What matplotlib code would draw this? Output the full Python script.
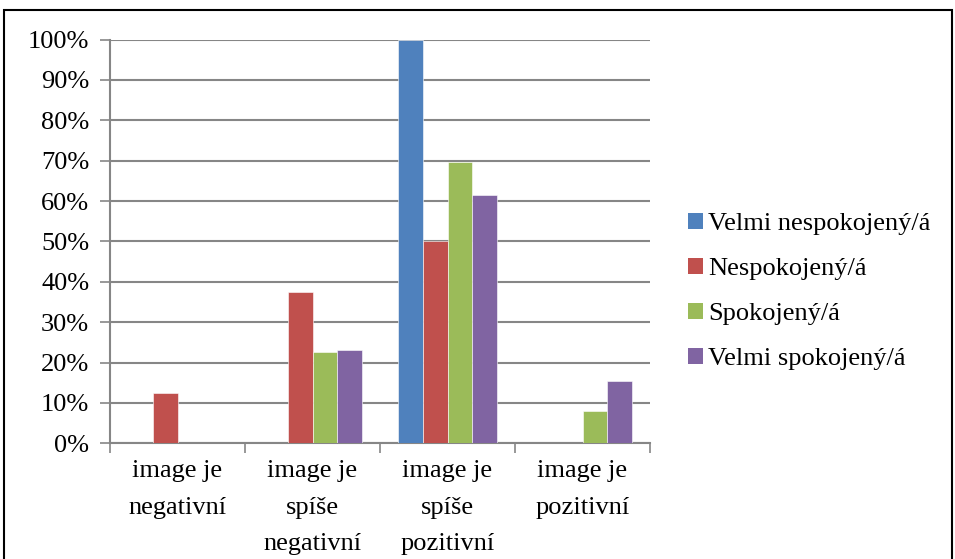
import matplotlib
matplotlib.use("Agg")
import matplotlib.pyplot as plt
import numpy as np
from matplotlib.patches import Rectangle, Patch

categories = ["image je\nnegativní", "image je\nspíše\nnegativní", "image je\nspíše\npozitivní", "image je\npozitivní"]
series_names = ["Velmi nespokojený/á", "Nespokojený/á", "Spokojený/á", "Velmi spokojený/á"]
velmi_nespokojeny = [0, 0, 100, 0]
nespokojeny = [12.5, 37.5, 50, 0]
spokojeny = [0, 22.5, 69.6, 7.9]
velmi_spokojeny = [0, 23.1, 61.5, 15.4]
yticks = [0, 10, 20, 30, 40, 50, 60, 70, 80, 90, 100]
colors = ["#4F81BD", "#C0504D", "#9BBB59", "#8064A2"]

plt.rcParams['font.family'] = ['Liberation Serif', 'DejaVu Serif']
FS = 19
fig = plt.figure(figsize=(9.55, 5.59), dpi=100)
W, H = 955, 559
ax = fig.add_axes([110 / W, 1 - 443.3 / H, 540 / W, 403.8 / H])

series = [velmi_nespokojeny, nespokojeny, spokojeny, velmi_spokojeny]
n = len(series)
bw = 1 / (n + 1.5)
x = np.arange(len(categories))
for i, (vals, c, name) in enumerate(zip(series, colors, series_names)):
    offs = (i - (n - 1) / 2) * bw
    ax.bar(x + offs, vals, width=bw, color=c, label=name, zorder=3,
           edgecolor='white', linewidth=0.4)

ax.set_xlim(-0.5, len(categories) - 0.5)
ax.set_ylim(0, 100)
ax.set_yticks(yticks)
ax.set_yticklabels([f"{v}%" for v in yticks], fontsize=FS)
ax.yaxis.grid(True, color="#868686", linewidth=1.5, zorder=0)
ax.set_xticks(np.arange(len(categories) + 1) - 0.5)
ax.set_xticklabels([])
ax.tick_params(axis='x', length=7, width=1.2, color="#868686", direction='out')
ax.tick_params(axis='y', length=7, width=1.2, color="#868686", direction='out', pad=8)
for s in ['top', 'right']:
    ax.spines[s].set_visible(False)
for s in ['left', 'bottom']:
    ax.spines[s].set_color("#868686")
    ax.spines[s].set_linewidth(1.5)
for xi, lab in zip(x, categories):
    ax.text(xi, -4.2, lab, ha='center', va='top', fontsize=FS, linespacing=1.85,
            transform=ax.transData)

handles = [Patch(facecolor=c, label=name) for c, name in zip(colors, series_names)]
leg = fig.legend(handles=handles, loc='upper left', bbox_to_anchor=(688 / W, 1 - 213 / H),
                 frameon=False, fontsize=FS, handlelength=0.55, handleheight=0.55,
                 handletextpad=0.2, labelspacing=0.86, borderaxespad=0, borderpad=0)

fig.patches.append(Rectangle((4 / W, -0.05), 948 / W, 1 - 10 / H + 0.05, transform=fig.transFigure,
                             fill=False, edgecolor='black', linewidth=1.5))
fig.savefig("out.png", dpi=100)
